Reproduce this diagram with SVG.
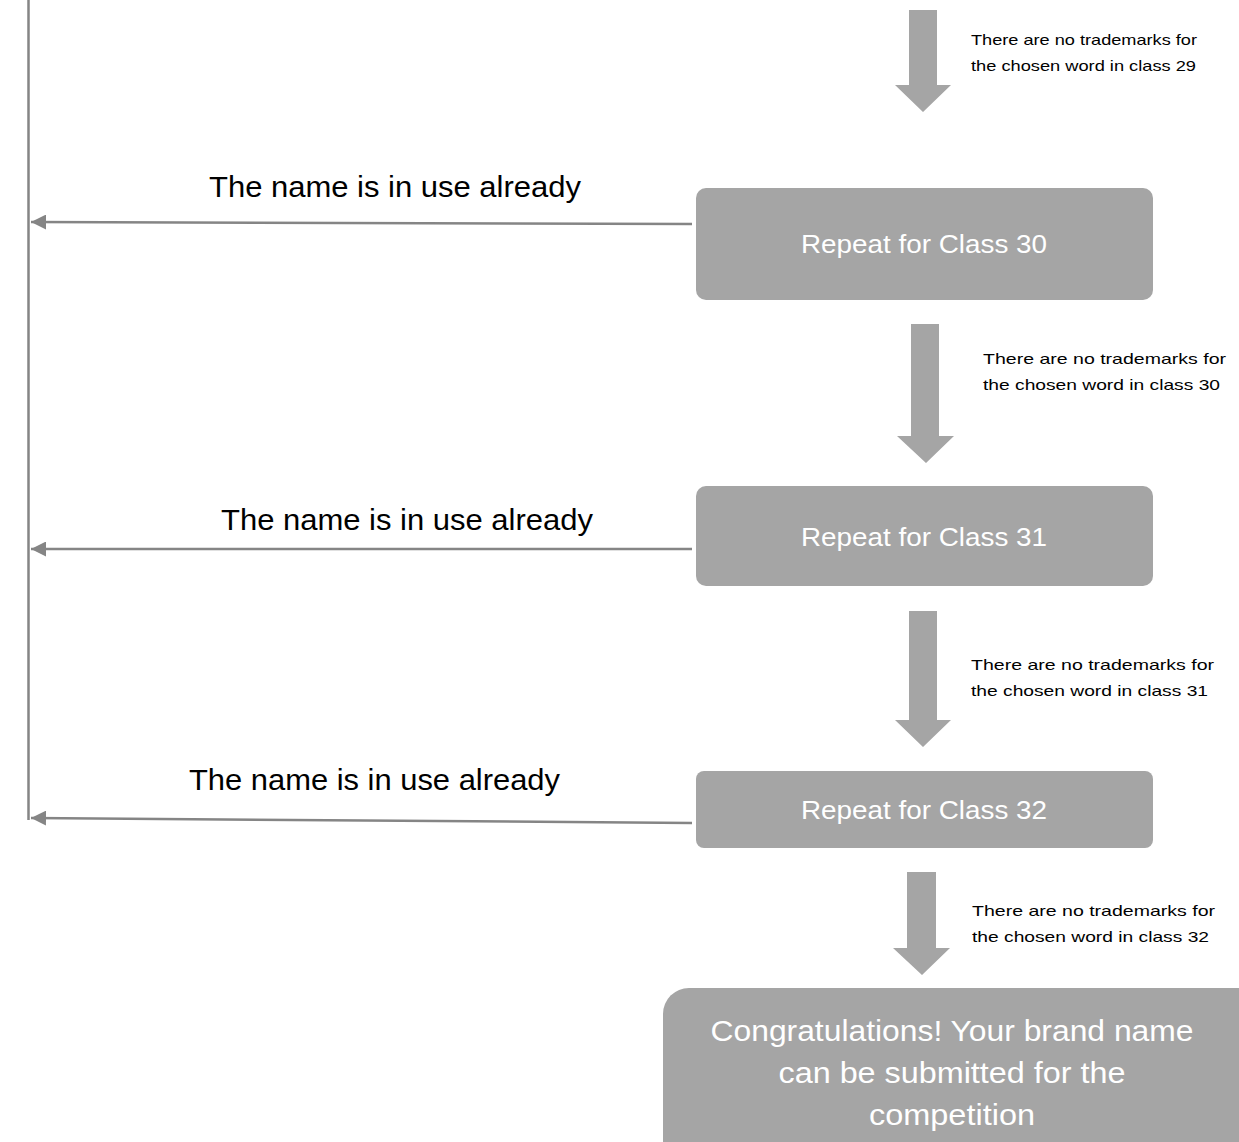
<svg xmlns="http://www.w3.org/2000/svg" width="1239" height="1142" viewBox="0 0 1239 1142">
<style>
.box{fill:#a5a5a5}
.bt{fill:#ffffff;font-family:"Liberation Sans",Arial,sans-serif;font-size:26px;text-anchor:middle}
.ft{fill:#ffffff;font-family:"Liberation Sans",Arial,sans-serif;font-size:30px;text-anchor:middle}
.lbl{fill:#000000;font-family:"Liberation Sans",Arial,sans-serif;font-size:15px}
.big{fill:#000000;font-family:"Liberation Sans",Arial,sans-serif;font-size:30px}
.ln{stroke:#858585;stroke-width:2.5;fill:none}
.blk{fill:#a5a5a5}
</style>
<defs>
<marker id="ah" viewBox="0 0 10 10" refX="10" refY="5" markerWidth="6" markerHeight="6" markerUnits="strokeWidth" orient="auto">
<path d="M0,0 L10,5 L0,10 Z" fill="#858585"/>
</marker>
</defs>
<g id="connectors">
<line class="ln" x1="28.5" y1="0" x2="28.5" y2="820"/>
<line class="ln" x1="692" y1="224" x2="31" y2="222" marker-end="url(#ah)"/>
<line class="ln" x1="692" y1="549" x2="31" y2="549" marker-end="url(#ah)"/>
<line class="ln" x1="692" y1="823" x2="31" y2="818" marker-end="url(#ah)"/>
<polygon class="blk" points="909,10 937,10 937,85 951,85 923,112 895,85 909,85"/>
<polygon class="blk" points="911,324 939,324 939,436 954,436 926,463 897,436 911,436"/>
<polygon class="blk" points="909,611 937,611 937,720 951,720 923,747 895,720 909,720"/>
<polygon class="blk" points="907,872 936,872 936,948 950,948 922,975 893,948 907,948"/>
<text class="lbl" x="971" y="45" textLength="226" lengthAdjust="spacingAndGlyphs">There are no trademarks for</text>
<text class="lbl" x="971" y="71" textLength="225" lengthAdjust="spacingAndGlyphs">the chosen word in class 29</text>
<text class="lbl" x="983" y="364" textLength="243" lengthAdjust="spacingAndGlyphs">There are no trademarks for</text>
<text class="lbl" x="983" y="390" textLength="237" lengthAdjust="spacingAndGlyphs">the chosen word in class 30</text>
<text class="lbl" x="971" y="670" textLength="243" lengthAdjust="spacingAndGlyphs">There are no trademarks for</text>
<text class="lbl" x="971" y="696" textLength="237" lengthAdjust="spacingAndGlyphs">the chosen word in class 31</text>
<text class="lbl" x="972" y="916" textLength="243" lengthAdjust="spacingAndGlyphs">There are no trademarks for</text>
<text class="lbl" x="972" y="942" textLength="237" lengthAdjust="spacingAndGlyphs">the chosen word in class 32</text>
<text class="big" x="209" y="197" textLength="372" lengthAdjust="spacingAndGlyphs">The name is in use already</text>
<text class="big" x="221" y="530" textLength="372" lengthAdjust="spacingAndGlyphs">The name is in use already</text>
<text class="big" x="189" y="790" textLength="371" lengthAdjust="spacingAndGlyphs">The name is in use already</text>
</g>
<g id="class30">
<rect class="box" x="696" y="188" width="457" height="112" rx="10"/>
<text class="bt" x="924" y="253" textLength="246" lengthAdjust="spacingAndGlyphs">Repeat for Class 30</text>
</g>
<g id="class31">
<rect class="box" x="696" y="486" width="457" height="100" rx="10"/>
<text class="bt" x="924" y="546" textLength="246" lengthAdjust="spacingAndGlyphs">Repeat for Class 31</text>
</g>
<g id="class32">
<rect class="box" x="696" y="771" width="457" height="77" rx="8"/>
<text class="bt" x="924" y="819" textLength="246" lengthAdjust="spacingAndGlyphs">Repeat for Class 32</text>
</g>
<g id="final">
<rect class="box" x="663" y="988" width="610" height="180" rx="26"/>
<text class="ft" x="952" y="1041" textLength="483" lengthAdjust="spacingAndGlyphs">Congratulations! Your brand name</text>
<text class="ft" x="952" y="1083" textLength="347" lengthAdjust="spacingAndGlyphs">can be submitted for the</text>
<text class="ft" x="952" y="1125" textLength="166" lengthAdjust="spacingAndGlyphs">competition</text>
</g>
</svg>
